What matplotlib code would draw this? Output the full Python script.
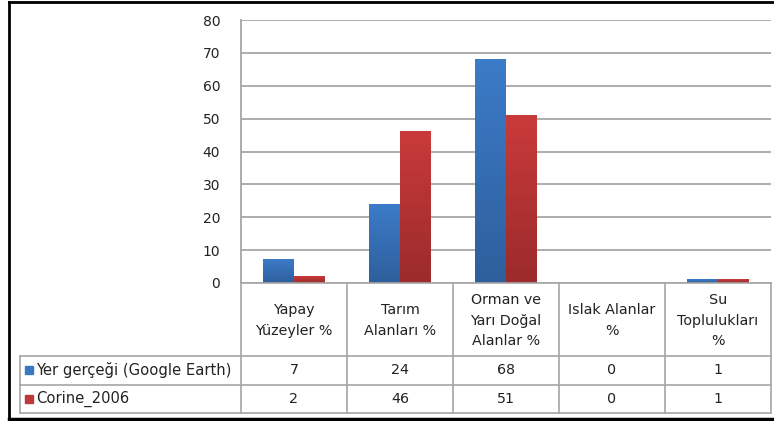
import matplotlib.pyplot as plt
import numpy as np
from matplotlib.colors import LinearSegmentedColormap

categories = ["Yapay\nYüzeyler %", "Tarım\nAlanları %", "Orman ve\nYarı Doğal\nAlanlar %",
              "Islak Alanlar\n%", "Su\nToplulukları\n%"]
series_names = ["Yer gerçeği (Google Earth)", "Corine_2006"]
ground_truth = [7, 24, 68, 0, 1]
corine = [2, 46, 51, 0, 1]
yticks = [0, 10, 20, 30, 40, 50, 60, 70, 80]

W, H = 774, 421
plt.rcParams['font.family'] = ['DejaVu Sans']
fig = plt.figure(figsize=(W / 100, H / 100), dpi=100)

# pixel geometry of the plot area / table
x_left, x_right = 241, 771
y_top, y_zero = 20, 283
row_lines = [283, 356, 385, 413]
tab_left = 20
grid_col = "#a6a6a6"
txt_col = "#222222"

ax = fig.add_axes([x_left / W, 1 - y_zero / H, (x_right - x_left) / W, (y_zero - y_top) / H])
n = len(categories)
ax.set_yticks(yticks)
ax.set_xticks([])
ax.tick_params(axis='y', length=0, pad=15, labelsize=10, labelcolor=txt_col)
ax.grid(axis='y', color=grid_col, linewidth=1.3)
ax.set_axisbelow(True)
for side in ["top", "right", "bottom"]:
    ax.spines[side].set_visible(False)
ax.spines["left"].set_color(grid_col)
ax.spines["left"].set_linewidth(1.3)

# bars with a light vertical shading
blue_cmap = LinearSegmentedColormap.from_list("b", ["#2e5f9c", "#3c7bc8"])
red_cmap = LinearSegmentedColormap.from_list("r", ["#9c2b2b", "#c93a3a"])
grad = np.linspace(0, 1, 64).reshape(-1, 1)

bw = 0.288
centers = np.arange(n) + 0.5
for vals, cmap, off in [(ground_truth, blue_cmap, -bw), (corine, red_cmap, 0)]:
    for c, v in zip(centers, vals):
        if v <= 0:
            continue
        ax.imshow(grad, extent=[c + off, c + off + bw, 0, v], origin='lower',
                  aspect='auto', cmap=cmap, zorder=3)
ax.set_xlim(0, n)
ax.set_ylim(0, 80)

# data table and frame drawn in pixel coordinates
ov = fig.add_axes([0, 0, 1, 1], zorder=5)
ov.set_xlim(0, W)
ov.set_ylim(H, 0)
ov.axis('off')
ov.patch.set_alpha(0)

col_w = (x_right - x_left) / n
col_x = [x_left + i * col_w for i in range(n + 1)]
lw = 1.2
ov.plot([x_left, x_right], [row_lines[0]] * 2, color=grid_col, lw=lw)
for y in row_lines[1:]:
    ov.plot([tab_left, x_right], [y, y], color=grid_col, lw=lw)
for x in col_x:
    ov.plot([x, x], [row_lines[0], row_lines[-1]], color=grid_col, lw=lw)
ov.plot([tab_left, tab_left], [row_lines[1], row_lines[-1]], color=grid_col, lw=lw)

for i, cat in enumerate(categories):
    ov.text(col_x[i] + col_w / 2, (row_lines[0] + row_lines[1]) / 2 + 1, cat,
            ha='center', va='center', fontsize=10.3, linespacing=1.6, color=txt_col)

for r, (name, vals, colr) in enumerate([(series_names[0], ground_truth, "#3a78c4"),
                                        (series_names[1], corine, "#c0393a")]):
    yc = (row_lines[r + 1] + row_lines[r + 2]) / 2
    ov.add_patch(plt.Rectangle((25, yc - 4.5), 8, 8, color=colr))
    ov.text(36, yc, name, ha='left', va='center', fontsize=10.6, color=txt_col)
    for i, v in enumerate(vals):
        ov.text(col_x[i] + col_w / 2, yc, str(v), ha='center', va='center',
                fontsize=10.3, color=txt_col)

# outer chart frame
ov.plot([9, W], [2, 2], color="black", lw=2)
ov.plot([9, 9], [2, 419], color="black", lw=2)
ov.plot([9, W], [419, 419], color="black", lw=2.5)

fig.savefig("out.png", dpi=100)
